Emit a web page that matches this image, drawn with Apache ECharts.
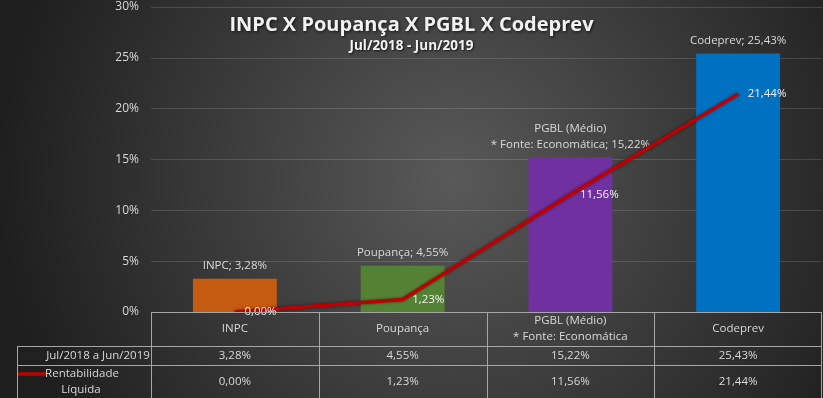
<!DOCTYPE html>
<html><head><meta charset="utf-8">
<script src="https://cdn.jsdelivr.net/npm/echarts@6/dist/echarts.min.js"></script>
<style>html,body{margin:0;padding:0;background:#333}#c{width:823px;height:398px}</style>
</head><body><div id="c"></div>
<script>
const categories = ['INPC', 'Poupança', 'PGBL (Médio)\n* Fonte: Economática', 'Codeprev'];
const barName = 'Jul/2018 a Jun/2019';
const lineName = 'Rentabilidade\nLíquida';
const barValues = [3.28, 4.55, 15.22, 25.43];
const lineValues = [0.00, 1.23, 11.56, 21.44];
const barColors = ['#C55A11', '#548235', '#7030A0', '#0070C0'];
const titleText = 'INPC X Poupança X PGBL X Codeprev';
const subtitleText = 'Jul/2018 - Jun/2019';

const fmt = v => v.toFixed(2).replace('.', ',') + '%';
const TFONT = '"Open Sans", "Noto Sans", sans-serif';
const FONT = '"Open Sans", "Noto Sans", sans-serif';
const FS = 11.5;
const TXT = '#d9d9d9';

const chart = echarts.init(document.getElementById('c'));
chart.setOption({
  backgroundColor: {
    type: 'radial', x: 0.55, y: 0.45, r: 1.15,
    colorStops: [{offset: 0, color: '#595959'}, {offset: 1, color: '#1e1e1e'}]
  },
  animation: false,
  title: {
    text: titleText, subtext: subtitleText, left: 'center', top: 10, itemGap: 4,
    textStyle: {fontFamily: TFONT, fontSize: 20, fontWeight: 'bold', color: '#f2f2f2',
      textShadowColor: 'rgba(0,0,0,0.7)', textShadowBlur: 3, textShadowOffsetX: 1, textShadowOffsetY: 1},
    subtextStyle: {fontFamily: TFONT, fontSize: 13.5, fontWeight: 'bold', color: '#f2f2f2',
      textShadowColor: 'rgba(0,0,0,0.7)', textShadowBlur: 2, textShadowOffsetX: 1, textShadowOffsetY: 1}
  },
  grid: {left: 151, right: 1, top: 7, bottom: 86, containLabel: false},
  xAxis: {
    type: 'category', data: categories,
    axisLine: {show: false}, axisTick: {show: false}, axisLabel: {show: false}
  },
  yAxis: {
    type: 'value', min: 0, max: 30, interval: 5,
    axisLabel: {formatter: '{value}%', color: TXT, fontFamily: FONT, fontSize: 12, margin: 12},
    splitLine: {lineStyle: {color: 'rgba(255,255,255,0.14)', width: 1}},
    axisLine: {show: false}, axisTick: {show: false}
  },
  series: [
    {
      name: barName, type: 'bar', data: barValues, barWidth: '50%',
      itemStyle: {color: p => barColors[p.dataIndex]},
      label: {show: true, position: 'top', distance: 5, color: TXT, fontFamily: FONT, fontSize: FS, lineHeight: 16,
        formatter: p => p.name + '; ' + fmt(p.value)}
    },
    {
      name: lineName, type: 'line', data: lineValues, symbol: 'circle', symbolSize: 1, showSymbol: true,
      itemStyle: {color: '#C00000'},
      lineStyle: {color: '#C00000', width: 3.5, shadowColor: 'rgba(0,0,0,0.5)', shadowBlur: 3},
      label: {show: true, position: 'right', distance: 9, color: '#f2f2f2', fontFamily: FONT, fontSize: FS,
        formatter: p => fmt(p.value)},
      z: 5
    }
  ]
});

// Data table below the plot, positioned from the chart's own axes
const cx = categories.map((c, i) => chart.convertToPixel({xAxisIndex: 0}, i));
const cw = cx[1] - cx[0];
const y0 = chart.convertToPixel({yAxisIndex: 0}, 0);
const leftEdge = cx[0] - cw / 2;
const rightEdge = cx[cx.length - 1] + cw / 2 - 1;
const tableLeft = 17;
const rowTops = [y0, y0 + 34, y0 + 53, y0 + 86];
const LINE = '#a6a6a6';
const g = [];
const hline = (x1, x2, y) => g.push({type: 'line', shape: {x1, y1: y + 0.5, x2, y2: y + 0.5}, style: {stroke: LINE, lineWidth: 1}, z: 10});
const vline = (x, y1, y2) => g.push({type: 'line', shape: {x1: x + 0.5, y1, x2: x + 0.5, y2}, style: {stroke: LINE, lineWidth: 1}, z: 10});
const txt = (x, y, t) => g.push({type: 'text', x, y, style: {text: t, fill: TXT, font: FS + 'px ' + FONT, align: 'center', verticalAlign: 'middle', lineHeight: 16}, z: 11});

hline(leftEdge, rightEdge, rowTops[0]);
hline(tableLeft, rightEdge, rowTops[1]);
hline(tableLeft, rightEdge, rowTops[2]);
vline(tableLeft, rowTops[1], rowTops[3]);
for (let i = 0; i <= categories.length; i++) {
  const x = Math.round(leftEdge + i * cw) - (i === categories.length ? 1 : 0);
  vline(x, rowTops[0], rowTops[3]);
}
categories.forEach((c, i) => {
  txt(cx[i], (rowTops[0] + rowTops[1]) / 2, c);
  txt(cx[i], (rowTops[1] + rowTops[2]) / 2, fmt(barValues[i]));
  txt(cx[i], (rowTops[2] + rowTops[3]) / 2, fmt(lineValues[i]));
});
// legend keys + row names
g.push({type: 'rect', shape: {x: 20, y: rowTops[1] + 6, width: 26, height: 8}, style: {fill: '#222222'}, z: 11});
txt(98, (rowTops[1] + rowTops[2]) / 2, barName);
g.push({type: 'line', shape: {x1: 18, y1: rowTops[2] + 9, x2: 47, y2: rowTops[2] + 9}, style: {stroke: '#C00000', lineWidth: 3.5}, z: 11});
g.push({type: 'text', x: 82, y: rowTops[2] + 9, style: {text: 'Rentabilidade', fill: TXT, font: FS + 'px ' + FONT, align: 'center', verticalAlign: 'middle'}, z: 11});
g.push({type: 'text', x: 81, y: rowTops[2] + 25, style: {text: 'Líquida', fill: TXT, font: FS + 'px ' + FONT, align: 'center', verticalAlign: 'middle'}, z: 11});
chart.setOption({graphic: g});
</script></body></html>
